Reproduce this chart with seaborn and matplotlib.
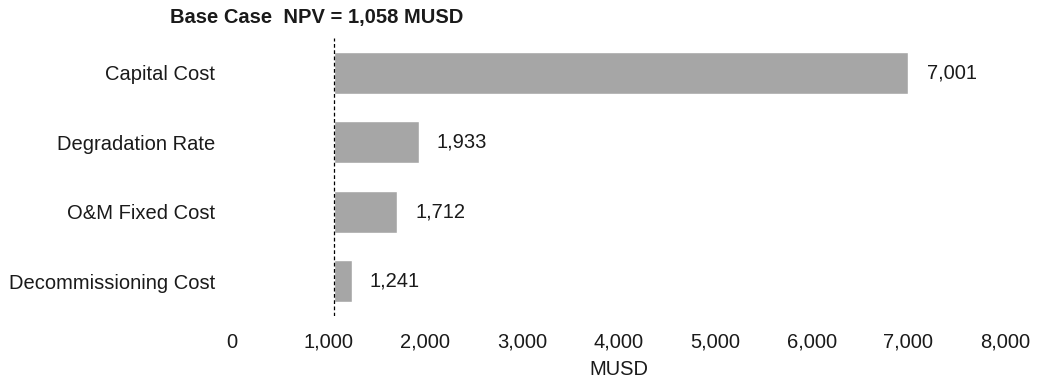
import matplotlib
matplotlib.use("Agg")
import matplotlib.pyplot as plt
import seaborn as sns
import pandas as pd
from matplotlib.ticker import FuncFormatter

# NPV tornado: high-side NPV for each input, bars drawn from the base case
base_npv = 1058
drivers = ["Capital Cost", "Degradation Rate", "O&M Fixed Cost", "Decommissioning Cost"]
npv_high = [7001, 1933, 1712, 1241]

df = pd.DataFrame({"driver": drivers, "npv": npv_high})
df["delta"] = df["npv"] - base_npv

sns.set_style("white")
plt.rcParams["font.family"] = ["Liberation Sans", "DejaVu Sans"]

fig = plt.figure(figsize=(10.38, 3.84), dpi=100)
ax = fig.add_axes([0.2235, 0.177, 0.9682 - 0.2235, 0.901 - 0.177])

sns.barplot(data=df, x="delta", y="driver", orient="h", color="#a6a6a6",
            saturation=1, width=0.6, left=base_npv, ax=ax)

ax.axvline(base_npv, color="black", linestyle=(0, (3, 2)), linewidth=0.9)

for i, v in enumerate(npv_high):
    ax.annotate(f"{v:,}", xy=(v, i), xytext=(13, 0), textcoords="offset points",
                va="center", ha="left", fontsize=14.5, color="#1a1a1a")

ax.set_xlim(0, 8000)
ax.set_ylim(3.5, -0.5)
ax.set_xticks(range(0, 8001, 1000))
ax.xaxis.set_major_formatter(FuncFormatter(lambda x, p: f"{int(x):,}"))
ax.tick_params(axis="both", length=0, labelsize=14.5, colors="#1a1a1a")
ax.tick_params(axis="x", pad=12)
ax.tick_params(axis="y", pad=12)
ax.set_xlabel("MUSD", fontsize=14.5, color="#1a1a1a", labelpad=6)
ax.set_ylabel("")
for s in ax.spines.values():
    s.set_visible(False)

fig.text(317 / 1038, 1 - 18 / 384, "Base Case  NPV = 1,058 MUSD", ha="center",
         va="center", fontsize=14.5, fontweight="bold", color="#1a1a1a")

fig.savefig("out.png", dpi=100)
